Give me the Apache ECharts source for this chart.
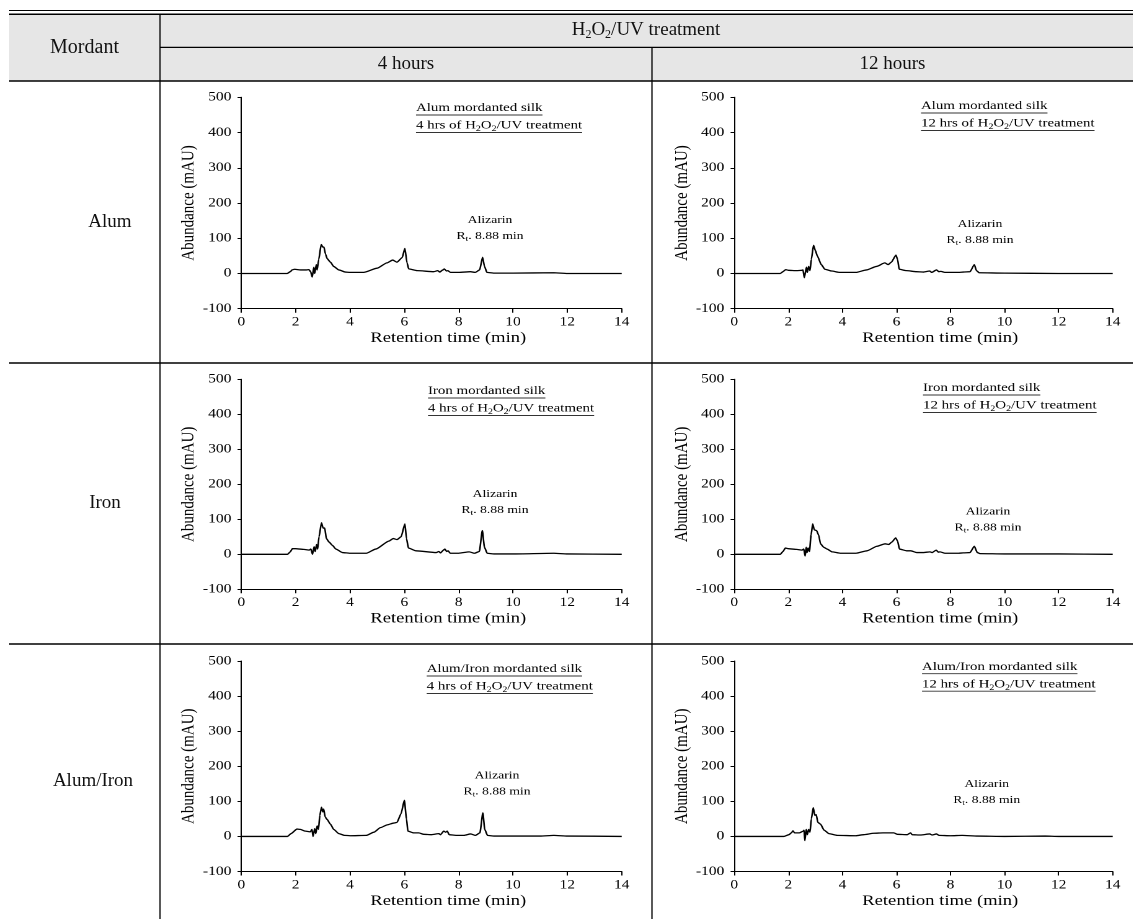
<!DOCTYPE html>
<html><head><meta charset="utf-8">
<script src="https://cdn.jsdelivr.net/npm/echarts@6/dist/echarts.min.js"></script>
<style>
html,body{margin:0;padding:0;background:#fff;overflow:hidden;width:1133px;height:919px;}
#table{position:absolute;left:0;top:0;width:1133px;height:919px;}
#plots{position:absolute;left:0;top:0;width:913.71px;height:919px;transform:scaleX(1.24);transform-origin:0 0;pointer-events:none;}
</style></head><body>
<div id="table"></div><div id="plots"></div>
<script>
// ---------- data ----------
const mordants = ['Alum', 'Iron', 'Alum/Iron'];
const durations = ['4 hours', '12 hours'];
const durationHrs = ['4', '12'];
const xTicks = [0, 2, 4, 6, 8, 10, 12, 14];
const yTicks = [-100, 0, 100, 200, 300, 400, 500];
const peakName = 'Alizarin';
const peakRt = '8.88 min';

// [retention time (min), abundance (mAU)]
const alum4h = [[0,0],[1.69,0],[1.8,5],[1.87,10],[1.96,12],[2.18,10],[2.4,10],[2.49,11],[2.55,5],[2.61,-10],[2.67,18],[2.7,0],[2.76,25],[2.79,10],[2.85,40],[2.94,82],[3.0,75],[3.04,75],[3.1,55],[3.16,42],[3.28,32],[3.4,20],[3.59,10],[3.83,4],[4.0,3],[4.5,3],[5.0,15],[5.36,30],[5.57,38],[5.73,32],[5.92,45],[6.02,71],[6.1,30],[6.16,13],[6.47,8],[7.08,5],[7.23,8],[7.3,4],[7.42,10],[7.47,13],[7.55,7],[7.6,8],[7.7,3],[8.0,3],[8.43,5],[8.61,3],[8.77,10],[8.88,46],[8.95,20],[9.04,3],[9.3,1],[10,1],[11.5,2],[12,0],[14,0]];
const alum12h = [[0,0],[1.7,0],[1.8,5],[1.9,11],[2.0,9],[2.3,8],[2.5,9],[2.54,10],[2.59,-12],[2.67,18],[2.7,3],[2.75,20],[2.8,8],[2.85,40],[2.93,80],[3.0,65],[3.07,50],[3.22,25],[3.35,12],[3.6,7],[3.9,3],[4.5,3],[4.89,10],[5.26,20],[5.57,30],[5.69,25],[5.81,32],[5.98,52],[6.04,40],[6.1,12],[6.37,8],[6.74,5],[7.0,4],[7.23,7],[7.3,3],[7.48,10],[7.57,5],[7.64,6],[7.79,3],[8.3,3],[8.47,4],[8.72,5],[8.88,25],[8.96,8],[9.06,2],[10,1],[12,0],[14,0]];
const iron4h = [[0,0],[1.7,0],[1.8,7],[1.88,16],[2.0,16],[2.3,14],[2.5,12],[2.56,15],[2.62,0],[2.68,22],[2.72,8],[2.77,28],[2.81,15],[2.86,50],[2.95,90],[3.01,75],[3.07,75],[3.13,45],[3.23,35],[3.36,25],[3.48,15],[3.72,5],[4.0,3],[4.6,3],[4.95,15],[5.44,38],[5.59,45],[5.73,42],[5.88,50],[6.02,87],[6.08,45],[6.15,18],[6.43,10],[7.17,5],[7.27,8],[7.33,4],[7.44,12],[7.49,15],[7.56,8],[7.61,10],[7.69,3],[8.0,3],[8.39,7],[8.58,3],[8.76,8],[8.87,68],[8.95,20],[9.05,3],[9.3,1],[10,1],[11.5,3],[12,1],[14,0]];
const iron12h = [[0,0],[1.7,0],[1.8,8],[1.89,18],[2.0,16],[2.3,14],[2.5,12],[2.57,15],[2.62,-5],[2.66,20],[2.69,5],[2.73,18],[2.78,8],[2.84,55],[2.9,87],[2.96,70],[3.04,68],[3.12,55],[3.19,30],[3.31,20],[3.43,15],[3.62,7],[3.92,3],[4.5,3],[4.91,10],[5.28,23],[5.58,30],[5.71,28],[5.83,35],[5.97,47],[6.04,38],[6.11,15],[6.38,10],[6.53,10],[6.75,5],[7.0,5],[7.24,7],[7.32,5],[7.47,12],[7.55,6],[7.61,7],[7.8,3],[8.3,3],[8.47,4],[8.72,5],[8.88,23],[8.99,5],[9.09,2],[10,1],[12,1],[14,0]];
const alumIron4h = [[0,0],[1.7,0],[1.83,8],[2.05,21],[2.17,20],[2.36,15],[2.54,13],[2.6,20],[2.64,0],[2.7,22],[2.74,8],[2.79,30],[2.84,20],[2.89,60],[2.95,83],[3.0,70],[3.03,78],[3.09,55],[3.16,48],[3.28,35],[3.4,20],[3.59,8],[3.8,3],[4.0,2],[4.6,3],[4.88,12],[5.12,25],[5.37,33],[5.61,38],[5.73,40],[5.88,65],[6.0,103],[6.08,50],[6.13,15],[6.35,10],[6.53,10],[6.72,6],[7.0,5],[7.27,8],[7.33,5],[7.45,15],[7.52,12],[7.58,15],[7.65,5],[7.9,3],[8.2,3],[8.44,7],[8.62,3],[8.78,10],[8.89,67],[8.96,20],[9.06,3],[9.3,1],[11,1],[11.5,3],[12,1],[14,0]];
const alumIron12h = [[0,0],[1.83,0],[2.02,5],[2.11,10],[2.17,16],[2.23,10],[2.4,10],[2.55,15],[2.58,18],[2.61,-12],[2.66,20],[2.7,5],[2.75,20],[2.8,12],[2.85,50],[2.92,82],[2.98,60],[3.03,62],[3.09,40],[3.19,35],[3.32,18],[3.5,8],[3.81,3],[4.5,2],[4.79,5],[5.16,9],[5.5,10],[5.9,10],[6.03,6],[6.4,5],[6.52,10],[6.58,5],[6.89,4],[7.23,7],[7.32,4],[7.48,7],[7.57,3],[8.0,2],[8.43,3],[9.0,1],[10,0],[11.5,1],[12,0],[14,0]];

const traces = [[alum4h, alum12h], [iron4h, iron12h], [alumIron4h, alumIron12h]];

// ---------- layout (reference pixels) ----------
const S = 1.24; // horizontal stretch of the plot images
const FONT = '"Liberation Serif","Times New Roman",serif';
const colX = [[241.3, 621.7], [734.3, 1112.7]];
const rowY = [[97.3, 308.7], [379.3, 589.3], [661, 871.5]];
const annotPos = [[[416, 108], [921, 106]], [[428, 391], [923, 388]], [[426.7, 669], [922, 666.7]]];
const peakPos = [[[490, 220], [980, 224]], [[495, 494], [988, 511.7]], [[497, 775.7], [986.7, 784]]];
const rowLabelX = [110, 105, 93];

const mctx = document.createElement('canvas').getContext('2d');
function tw(str, size) { mctx.font = size + 'px ' + FONT; return mctx.measureText(str).width; }

// ---------- table ----------
const tableChart = echarts.init(document.getElementById('table'), null, {renderer: 'canvas'});
const tG = [];
const L = (x1, y1, x2, y2, w) => tG.push({type: 'line', shape: {x1, y1, x2, y2}, style: {stroke: '#000', lineWidth: w || 1.3}, silent: true});
tG.push({type: 'rect', shape: {x: 9, y: 14, width: 1124, height: 67}, style: {fill: '#e6e6e6'}, silent: true});
L(9, 10.5, 1133, 10.5, 1.2);
L(9, 14.2, 1133, 14.2, 1.4);
L(9, 81, 1133, 81, 1.4);
L(160, 47.3, 1133, 47.3, 1.3);
L(160, 14, 160, 919, 1.3);
L(652, 47.3, 652, 919, 1.3);
L(9, 363, 1133, 363, 1.3);
L(9, 644, 1133, 644, 1.3);
const HT = (text, x, y, size, rich) => tG.push({type: 'text', x, y, silent: true,
  style: {text, fill: '#111', fontSize: size, fontFamily: FONT, align: 'center', verticalAlign: 'middle', textAlign: 'center', textVerticalAlign: 'middle', rich: rich}});
HT('Mordant', 84.5, 47.5, 20);
HT('{n|H}{s|2}{n|O}{s|2}{n|/UV treatment}', 646, 30, 19, {
  n: {fontSize: 19, fontFamily: FONT, fill: '#111', lineHeight: 22},
  s: {fontSize: 12, fontFamily: FONT, fill: '#111', lineHeight: 12, verticalAlign: 'bottom'}
});
HT(durations[0], (160 + 652) / 2, 64.5, 19);
HT(durations[1], (652 + 1133) / 2, 64.5, 19);
const rowMid = [(81 + 363) / 2, (363 + 644) / 2, (644 + 919) / 2];
mordants.forEach((m, i) => HT(m, rowLabelX[i], rowMid[i], 19));
tableChart.setOption({animation: false, graphic: {elements: tG}});

// ---------- plots ----------
const plotChart = echarts.init(document.getElementById('plots'), null, {renderer: 'canvas', devicePixelRatio: 2});
const grids = [], xAxes = [], yAxes = [], series = [], pG = [];
const axisCommon = {
  axisLine: {show: true, onZero: false, lineStyle: {color: '#000', width: 1}},
  axisTick: {show: true, lineStyle: {color: '#000', width: 1}},
  splitLine: {show: false},
  nameLocation: 'middle'
};
for (let r = 0; r < 3; r++) {
  for (let c = 0; c < 2; c++) {
    const gi = r * 2 + c;
    const x0 = colX[c][0], x1 = colX[c][1], y0 = rowY[r][0], y1 = rowY[r][1];
    grids.push({left: x0 / S, width: (x1 - x0) / S, top: y0, height: y1 - y0, containLabel: false, outerBoundsMode: 'none'});
    xAxes.push(Object.assign({}, axisCommon, {
      gridIndex: gi, type: 'value', min: xTicks[0], max: xTicks[xTicks.length - 1], interval: xTicks[1] - xTicks[0],
      axisTick: {show: true, length: 4, lineStyle: {color: '#000', width: 1}},
      axisLabel: {color: '#000', fontFamily: FONT, fontSize: 12.5, margin: 7},
      name: 'Retention time (min)', nameGap: 22,
      nameTextStyle: {color: '#000', fontFamily: FONT, fontSize: 15, padding: [0, 0, 0, 27]}
    }));
    yAxes.push(Object.assign({}, axisCommon, {
      gridIndex: gi, type: 'value', min: yTicks[0], max: yTicks[yTicks.length - 1], interval: yTicks[1] - yTicks[0],
      axisTick: {show: true, length: 3, lineStyle: {color: '#000', width: 1}},
      axisLabel: {color: '#000', fontFamily: FONT, fontSize: 12.5, margin: 8},
      name: 'Abundance (mAU)', nameGap: 29, nameRotate: 90,
      nameTextStyle: {color: '#000', fontFamily: FONT, fontSize: 15}
    }));
    series.push({
      type: 'line', xAxisIndex: gi, yAxisIndex: gi, data: traces[r][c],
      showSymbol: false, smooth: 0.2, smoothMonotone: 'x',
      lineStyle: {color: '#000', width: 1.3}, silent: true
    });
    // annotation box (underlined, two lines)
    const ax = annotPos[r][c][0] / S, ay = annotPos[r][c][1];
    const line1 = mordants[r] + ' mordanted silk';
    const pre = durationHrs[c] + ' hrs of H';
    const rich = {
      n: {fontSize: 12, fontFamily: FONT, fill: '#000', lineHeight: 15},
      s: {fontSize: 8, fontFamily: FONT, fill: '#000', lineHeight: 8, verticalAlign: 'bottom'}
    };
    pG.push({type: 'text', x: ax, y: ay, silent: true,
      style: {text: line1, fill: '#000', fontSize: 12, fontFamily: FONT, align: 'left', verticalAlign: 'middle', textAlign: 'left', textVerticalAlign: 'middle'}});
    pG.push({type: 'line', silent: true, shape: {x1: ax, y1: ay + 7, x2: ax + tw(line1, 12), y2: ay + 7}, style: {stroke: '#333', lineWidth: 0.9}});
    const ay2 = ay + 17.5;
    pG.push({type: 'text', x: ax, y: ay2, silent: true,
      style: {text: '{n|' + pre + '}{s|2}{n|O}{s|2}{n|/UV treatment}', rich, align: 'left', verticalAlign: 'middle', textAlign: 'left', textVerticalAlign: 'middle'}});
    const w2 = tw(pre, 12) + tw('2', 8) + tw('O', 12) + tw('2', 8) + tw('/UV treatment', 12);
    pG.push({type: 'line', silent: true, shape: {x1: ax, y1: ay2 + 7, x2: ax + w2, y2: ay2 + 7}, style: {stroke: '#333', lineWidth: 0.9}});
    // peak label
    const px = peakPos[r][c][0] / S, py = peakPos[r][c][1];
    pG.push({type: 'text', x: px, y: py, silent: true,
      style: {text: peakName, fill: '#000', fontSize: 11, fontFamily: FONT, align: 'center', verticalAlign: 'middle', textAlign: 'center', textVerticalAlign: 'middle'}});
    pG.push({type: 'text', x: px, y: py + 16, silent: true,
      style: {text: '{n|R}{s|t}{n|. ' + peakRt + '}', align: 'center', verticalAlign: 'middle', textAlign: 'center', textVerticalAlign: 'middle',
        rich: {n: {fontSize: 11, fontFamily: FONT, fill: '#000', lineHeight: 14}, s: {fontSize: 7.5, fontFamily: FONT, fill: '#000', lineHeight: 7, verticalAlign: 'bottom'}}}});
  }
}
plotChart.setOption({animation: false, grid: grids, xAxis: xAxes, yAxis: yAxes, series, graphic: {elements: pG}});
</script>
</body></html>
